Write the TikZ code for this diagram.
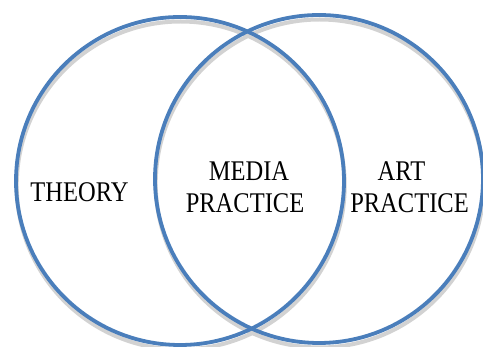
\documentclass[tikz,border=0pt]{standalone}
\usepackage{fontspec}
\setmainfont[FakeStretch=0.86]{Liberation Serif}
\definecolor{ringblue}{HTML}{4A7EBB}
\definecolor{ringshadow}{HTML}{D2D2D2}
\begin{document}
\begin{tikzpicture}[x=1pt,y=-1pt,
  ring/.style={circle,draw=ringblue,line width=3.8pt,minimum size=328pt,inner sep=0pt},
  ringshade/.style={draw=ringshadow,line width=4pt},
  label/.style={anchor=base,inner sep=0pt,font=\fontsize{28.5}{32}\selectfont}]
\useasboundingbox (0,0) rectangle (483,347);
% shadows
\draw[ringshade] (180.7,185.5) circle[radius=164];
\draw[ringshade] (319.7,183.5) circle[radius=164];
% rings
\node[ring] (left) at (180,181) {};
\node[ring] (right) at (319,179) {};
% labels
\node[label] (theory) at (79.5,202) {THEORY};
\node[label] (media) at (249,181) {MEDIA};
\node[label] (mpractice) at (245,213) {PRACTICE};
\node[label] (art) at (401.5,181) {ART};
\node[label] (apractice) at (409.5,213) {PRACTICE};
\end{tikzpicture}
\end{document}
